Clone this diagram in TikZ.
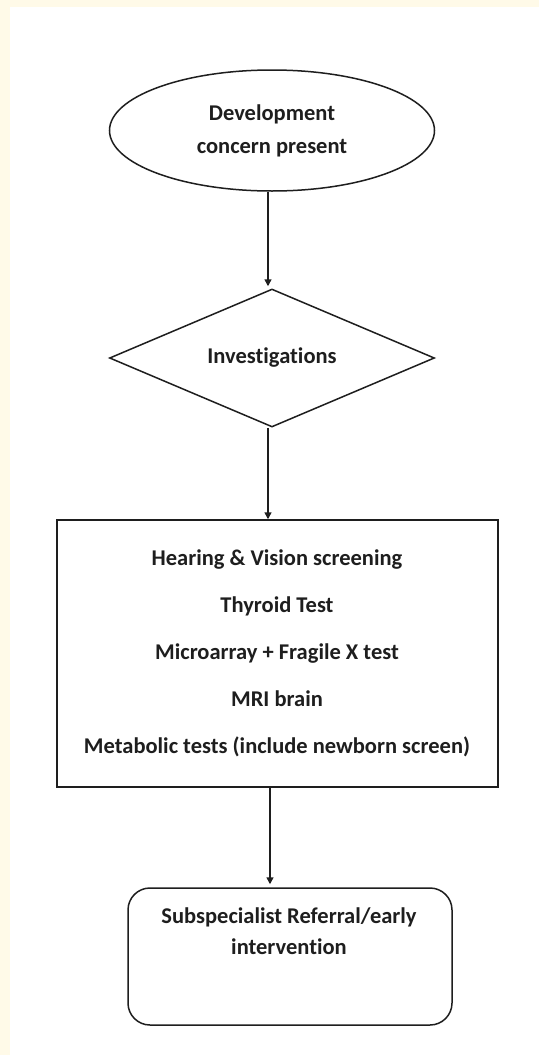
\documentclass[tikz,border=0pt]{standalone}
\usepackage{fontspec}
\setmainfont[Ligatures=NoCommon]{Carlito}
\usetikzlibrary{shapes.geometric,arrows.meta}
\definecolor{cream}{RGB}{255,250,232}
\definecolor{ink}{RGB}{30,30,30}
\tikzset{
  shapeline/.style={draw=ink, line width=1.5pt},
  lbl/.style={font=\bfseries\fontsize{22.5}{33}\selectfont, text=ink, align=center},
  arr/.style={draw=ink, line width=1.5pt, -{Triangle[length=7pt,width=7pt]}}
}
\begin{document}
\begin{tikzpicture}[x=1pt,y=1pt]
\fill[cream] (0,0) rectangle (539,-1055);
\fill[white] (10,-7) rectangle (539,-1055);
\useasboundingbox (0,0) rectangle (539,-1055);

\node[shapeline, ellipse, minimum width=325pt, minimum height=121pt, inner sep=0pt, lbl] (dev) at (272,-130.5) {Development\\concern present};
\node[shapeline, diamond, aspect=2.355, minimum width=325pt, minimum height=138pt, inner sep=0pt, lbl] (inv) at (272,-358) {Investigations};
\node[shapeline, rectangle, minimum width=441pt, minimum height=267pt, inner sep=0pt] (tests) at (277.5,-653.5) {};
\node[lbl, font=\bfseries\fontsize{22.5}{47}\selectfont] (testtxt) at (277,-653) {Hearing \& Vision screening\\Thyroid Test\\Microarray + Fragile X test\\MRI brain\\Metabolic tests (include newborn screen)};
\node[shapeline, rectangle, rounded corners=22pt, minimum width=324pt, minimum height=137pt, inner sep=0pt] (sub) at (290,-956.5) {};
\node[lbl, font=\bfseries\fontsize{22.5}{31}\selectfont] (subtxt) at (289,-931) {Subspecialist Referral/early\\intervention};

\draw[arr, shorten >=2pt] ([xshift=-4pt]dev.south) -- ([xshift=-4pt]dev.south |- inv.north);
\draw[arr] ([xshift=-4pt]inv.south) -- ([xshift=-4pt]inv.south |- tests.north);
\draw[arr, shorten >=3pt] ([xshift=-7.5pt]tests.south) -- ([xshift=-7.5pt]tests.south |- sub.north);
\end{tikzpicture}
\end{document}
